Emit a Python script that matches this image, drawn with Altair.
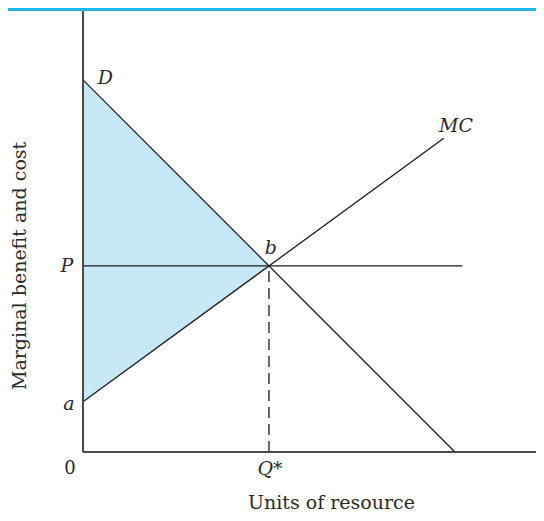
import altair as alt
import pandas as pd

# ---- data ----
d_x = [0, 10]
d_y = [10, 0]
mc_x = [0, 9.7]
mc_y = [1.35, 8.43]
p_x = [0, 10.2]
p_y = [5, 5]
q_x = [5, 5]
q_y = [0, 5]
area_x = [0, 5]
area_top = [10, 5]
area_bottom = [1.35, 5]
axis_x_end = 12.18
axis_y_end = 11.85

italic_labels = ["D", "MC", "P", "a", "b", "Q*"]
italic_lx = [0.6, 10.03, -0.43, -0.38, 5.05, 5.03]
italic_ly = [10.05, 8.75, 5.0, 1.3, 5.48, -0.47]
zero_label = ["0"]
zero_lx = [-0.35]
zero_ly = [-0.47]
xtitle = "Units of resource"
xtitle_x = 6.68
xtitle_y = -1.53
ytitle = "Marginal benefit and cost"
ytitle_x = -1.7
ytitle_y = 5.0

W, H = 453, 441
xs = alt.Scale(domain=[0, axis_x_end], nice=False, zero=False)
ys = alt.Scale(domain=[0, axis_y_end], nice=False, zero=False)
FONT = "DejaVu Serif"
LINE = "#1a1a1a"
TXT = "#2a2a2a"


def line_df(xv, yv):
    return pd.DataFrame({"x": xv, "y": yv})


X = lambda: alt.X("x:Q", scale=xs, axis=None)
Y = lambda: alt.Y("y:Q", scale=ys, axis=None)

area = alt.Chart(pd.DataFrame({"x": area_x, "y": area_top, "y2": area_bottom})).mark_area(
    color="#C6E8F7", opacity=1
).encode(x=X(), y=Y(), y2="y2:Q")

axes = alt.Chart(pd.DataFrame({"x": [0, 0], "y": [0, 0], "x2": [0, axis_x_end], "y2": [axis_y_end, 0]})).mark_rule(
    color="#4a4a4a", strokeWidth=2
).encode(x=X(), y=Y(), x2="x2:Q", y2="y2:Q")


def seg(xv, yv, **kw):
    return alt.Chart(line_df(xv, yv)).mark_line(color=LINE, strokeWidth=1.3, **kw).encode(x=X(), y=Y())


d_line = seg(d_x, d_y)
mc_line = seg(mc_x, mc_y)
p_line = seg(p_x, p_y)
q_line = seg(q_x, q_y, strokeDash=[11, 6])

it = alt.Chart(pd.DataFrame({"t": italic_labels, "x": italic_lx, "y": italic_ly})).mark_text(
    font=FONT, fontSize=19, fontStyle="italic", color=TXT, align="center", baseline="middle"
).encode(x=X(), y=Y(), text="t:N")

zr = alt.Chart(pd.DataFrame({"t": zero_label, "x": zero_lx, "y": zero_ly})).mark_text(
    font=FONT, fontSize=18, color=TXT, align="center", baseline="middle"
).encode(x=X(), y=Y(), text="t:N")

xt = alt.Chart(pd.DataFrame({"t": [xtitle], "x": [xtitle_x], "y": [xtitle_y]})).mark_text(
    font=FONT, fontSize=19, color=TXT, align="center", baseline="alphabetic"
).encode(x=X(), y=Y(), text="t:N")

yt = alt.Chart(pd.DataFrame({"t": [ytitle], "x": [ytitle_x], "y": [ytitle_y]})).mark_text(
    font=FONT, fontSize=19, color=TXT, align="center", baseline="middle", angle=270
).encode(x=X(), y=Y(), text="t:N")

topbar = alt.Chart(pd.DataFrame({"a": [0]})).mark_rule(color="#1DB4E8", strokeWidth=3).encode(
    x=alt.value(-75), x2=alt.value(W), y=alt.value(-1.5)
)

chart = alt.layer(area, d_line, mc_line, p_line, q_line, axes, it, zr, xt, yt, topbar).properties(
    width=W, height=H,
    autosize=alt.AutoSizeParams(type="none"),
    padding={"left": 75, "top": 3, "right": 0, "bottom": 60},
).configure_view(stroke=None)

chart.save("out.html", embed_options={"renderer": "svg", "actions": False})
